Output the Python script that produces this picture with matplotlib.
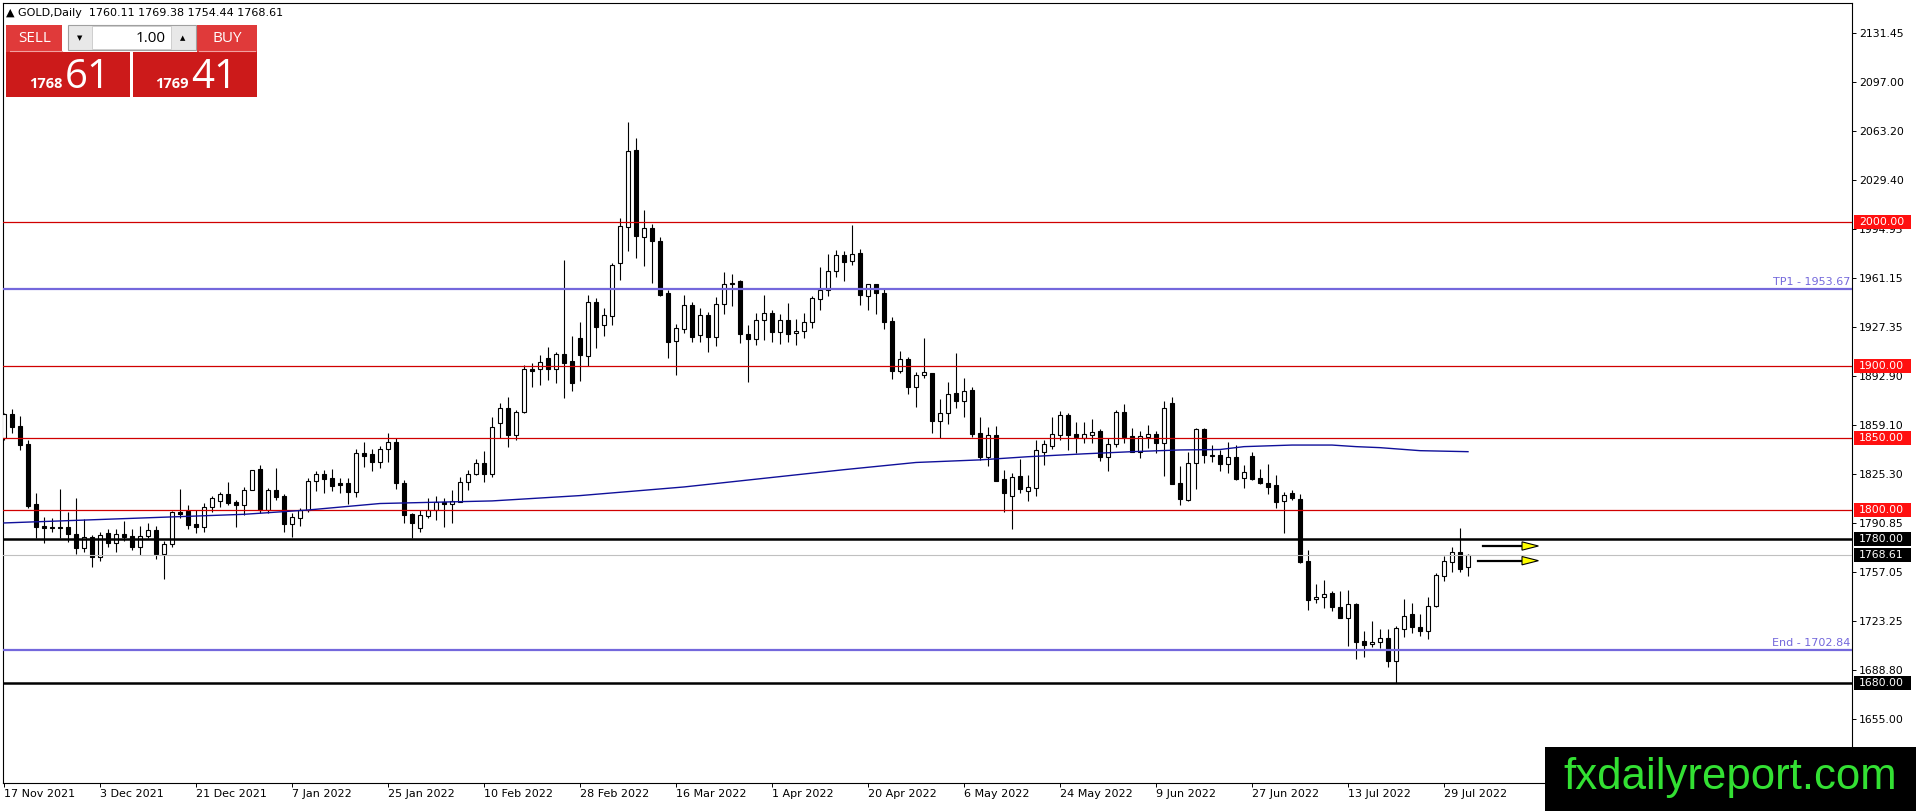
#GOLD DAILY CANDLES WITH LEVELS

import numpy as np
import matplotlib
matplotlib.use('Agg')
import matplotlib.pyplot as plt
from matplotlib.patches import Rectangle, Polygon
from matplotlib.transforms import blended_transform_factory

W, H = 1916, 811

# OHLC, one entry per daily bar (17 Nov 2021 .. 3 Aug 2022)
opens = [1850.0, 1866.7, 1858.3, 1845.8, 1804.2, 1789.0, 1788.5, 1788.5, 1788.4, 1783.3,
         1773.8, 1781.5, 1767.6, 1783.8, 1777.3, 1783.3, 1781.9, 1774.5, 1782.2, 1786.1,
         1769.4, 1776.2, 1798.6, 1799.5, 1790.3, 1788.0, 1802.3, 1806.5, 1810.9, 1805.5,
         1803.5, 1813.9, 1828.2, 1799.8, 1813.7, 1809.7, 1790.1, 1794.2, 1800.0, 1820.4,
         1824.8, 1822.0, 1818.5, 1818.5, 1812.7, 1839.4, 1838.9, 1833.6, 1842.4, 1847.2,
         1818.5, 1797.2, 1787.3, 1796.1, 1800.0, 1805.8, 1804.0, 1805.8, 1819.2, 1825.0,
         1832.9, 1825.0, 1860.6, 1870.6, 1852.1, 1868.3, 1897.7, 1897.7, 1905.3, 1897.7,
         1908.1, 1903.5, 1919.2, 1907.2, 1944.2, 1928.2, 1935.0, 1971.3, 1996.8, 2050.0,
         1989.8, 1996.0, 1986.8, 1950.5, 1917.6, 1925.9, 1942.4, 1921.3, 1935.2, 1920.4,
         1942.8, 1957.6, 1959.0, 1922.0, 1918.5, 1931.7, 1936.6, 1923.8, 1931.7, 1922.7,
         1924.1, 1930.8, 1946.3, 1952.8, 1966.0, 1976.9, 1972.7, 1978.5, 1948.8, 1956.7,
         1950.5, 1931.2, 1896.8, 1904.6, 1885.2, 1893.5, 1895.0, 1862.0, 1867.1, 1881.0,
         1875.9, 1883.3, 1853.2, 1837.0, 1851.9, 1821.5, 1810.0, 1823.6, 1813.4, 1815.5,
         1840.5, 1844.7, 1852.3, 1866.0, 1852.8, 1850.2, 1851.9, 1854.9, 1836.6, 1845.8,
         1867.8, 1851.4, 1840.5, 1850.9, 1852.5, 1846.8, 1874.1, 1818.5, 1807.0, 1832.4,
         1856.0, 1838.2, 1838.2, 1831.7, 1836.6, 1822.0, 1837.5, 1822.0, 1819.0, 1817.4,
         1806.3, 1811.6, 1807.6, 1764.6, 1738.0, 1739.4, 1742.6, 1732.4, 1724.8, 1735.0,
         1709.0, 1706.7, 1708.1, 1710.9, 1695.4, 1717.1, 1727.5, 1718.5, 1716.2, 1733.6,
         1754.4, 1764.1, 1771.1, 1760.11]
highs = [1867.5, 1870.1, 1865.3, 1848.6, 1811.6, 1795.4, 1794.7, 1814.6, 1798.6, 1808.6,
         1794.0, 1782.4, 1785.0, 1786.6, 1786.6, 1792.4, 1787.0, 1788.9, 1791.2, 1788.9,
         1778.5, 1799.5, 1814.3, 1803.5, 1800.0, 1804.6, 1809.7, 1812.5, 1819.4, 1807.0,
         1816.2, 1828.0, 1831.3, 1815.0, 1829.4, 1811.1, 1798.1, 1801.2, 1822.0, 1827.3,
         1827.8, 1828.2, 1822.0, 1822.0, 1842.1, 1847.2, 1842.4, 1844.4, 1853.2, 1849.8,
         1820.8, 1798.1, 1800.0, 1808.1, 1809.7, 1808.1, 1813.9, 1823.1, 1827.8, 1835.2,
         1841.2, 1864.4, 1874.0, 1878.7, 1869.5, 1900.7, 1901.9, 1907.6, 1913.4, 1909.9,
         1973.6, 1920.8, 1930.8, 1949.3, 1947.0, 1940.0, 1971.3, 2002.5, 2069.7, 2058.6,
         2008.3, 1998.4, 1989.8, 1952.8, 1929.2, 1949.3, 1944.7, 1940.0, 1937.7, 1948.2,
         1965.0, 1963.6, 1959.5, 1928.5, 1937.0, 1949.3, 1938.9, 1935.9, 1943.5, 1932.6,
         1936.6, 1948.6, 1968.5, 1977.5, 1980.5, 1979.9, 1997.9, 1981.0, 1957.0, 1957.0,
         1954.4, 1933.8, 1910.4, 1906.5, 1896.0, 1919.5, 1895.0, 1876.8, 1888.6, 1908.8,
         1891.4, 1885.2, 1864.4, 1857.9, 1858.3, 1827.8, 1825.9, 1835.2, 1824.3, 1848.6,
         1848.6, 1864.4, 1868.7, 1867.1, 1861.3, 1861.3, 1863.4, 1856.3, 1849.8, 1869.4,
         1873.4, 1856.7, 1854.9, 1859.0, 1854.9, 1875.7, 1878.7, 1830.5, 1840.5, 1857.2,
         1856.7, 1845.1, 1841.7, 1847.0, 1845.1, 1831.3, 1840.5, 1828.2, 1832.0, 1824.3,
         1812.7, 1813.9, 1811.1, 1772.2, 1748.6, 1751.4, 1743.8, 1743.8, 1744.4, 1735.6,
         1716.0, 1722.9, 1717.4, 1717.4, 1719.4, 1738.2, 1735.6, 1727.5, 1739.8, 1756.0,
         1768.0, 1774.5, 1787.3, 1769.38]
lows = [1848.6, 1853.7, 1841.7, 1801.2, 1780.3, 1777.3, 1785.0, 1780.3, 1778.0, 1769.2,
        1770.8, 1760.6, 1764.8, 1774.5, 1770.8, 1778.7, 1772.2, 1768.7, 1780.3, 1765.7,
        1752.3, 1774.5, 1794.2, 1786.6, 1783.8, 1785.0, 1798.8, 1801.9, 1803.2, 1788.4,
        1796.5, 1813.8, 1798.1, 1798.1, 1807.0, 1785.0, 1781.5, 1788.9, 1798.8, 1813.4,
        1811.6, 1813.4, 1812.0, 1804.2, 1809.3, 1830.1, 1827.3, 1829.0, 1833.6, 1814.4,
        1790.7, 1780.3, 1784.5, 1794.7, 1793.1, 1788.0, 1791.2, 1805.3, 1813.9, 1824.1,
        1819.7, 1823.0, 1849.8, 1843.5, 1848.6, 1867.1, 1885.6, 1886.8, 1890.3, 1888.4,
        1877.5, 1882.6, 1889.8, 1900.0, 1912.7, 1920.8, 1928.5, 1959.7, 1979.9, 1975.2,
        1969.7, 1957.9, 1948.6, 1905.8, 1893.7, 1922.7, 1916.9, 1916.9, 1910.0, 1914.1,
        1936.1, 1941.7, 1916.2, 1889.1, 1914.6, 1918.0, 1916.9, 1915.0, 1916.9, 1914.3,
        1919.7, 1926.6, 1938.9, 1948.6, 1962.0, 1959.3, 1970.1, 1942.4, 1938.9, 1935.9,
        1925.5, 1890.7, 1895.4, 1880.6, 1871.3, 1891.4, 1853.7, 1850.2, 1859.7, 1871.1,
        1864.8, 1850.9, 1834.7, 1830.8, 1820.4, 1798.4, 1786.6, 1812.0, 1806.5, 1810.0,
        1831.2, 1842.4, 1848.6, 1841.7, 1839.4, 1846.8, 1846.8, 1834.2, 1827.3, 1844.0,
        1846.3, 1840.0, 1835.9, 1843.3, 1839.4, 1823.8, 1818.1, 1803.5, 1806.3, 1814.3,
        1832.9, 1833.6, 1827.3, 1825.5, 1821.0, 1815.5, 1820.5, 1817.8, 1811.1, 1801.6,
        1783.8, 1807.0, 1763.0, 1730.6, 1735.6, 1732.2, 1730.1, 1724.8, 1705.6, 1696.3,
        1698.2, 1705.1, 1704.4, 1691.2, 1679.6, 1712.0, 1714.4, 1712.5, 1710.4, 1732.9,
        1751.0, 1757.2, 1757.2, 1754.44]
closes = [1866.7, 1857.9, 1845.1, 1802.8, 1788.0, 1787.5, 1787.5, 1787.3, 1783.3, 1773.8,
          1781.2, 1767.6, 1782.4, 1777.3, 1783.1, 1781.5, 1774.5, 1781.9, 1785.9, 1769.4,
          1776.2, 1798.6, 1797.0, 1789.8, 1788.0, 1802.3, 1808.1, 1810.9, 1805.1, 1803.7,
          1813.9, 1827.5, 1799.8, 1813.7, 1809.3, 1790.1, 1795.4, 1800.0, 1820.4, 1824.8,
          1821.5, 1816.9, 1817.6, 1812.7, 1839.4, 1837.5, 1833.6, 1842.4, 1847.2, 1818.5,
          1796.3, 1790.7, 1796.3, 1800.0, 1805.8, 1804.0, 1806.5, 1819.2, 1825.0, 1832.4,
          1825.0, 1857.4, 1870.6, 1852.1, 1868.3, 1897.7, 1896.8, 1903.0, 1897.7, 1908.1,
          1902.3, 1888.4, 1907.6, 1944.2, 1927.3, 1935.4, 1970.1, 1997.2, 2049.3, 1990.3,
          1996.0, 1987.0, 1949.3, 1916.9, 1926.2, 1942.4, 1920.4, 1935.2, 1920.4, 1943.0,
          1956.7, 1957.0, 1922.0, 1918.5, 1931.7, 1936.6, 1923.8, 1931.7, 1922.5, 1924.3,
          1930.8, 1947.0, 1952.8, 1966.0, 1976.9, 1972.5, 1978.0, 1949.0, 1956.7, 1950.5,
          1930.8, 1896.8, 1904.6, 1885.2, 1893.5, 1896.0, 1862.0, 1867.2, 1880.3, 1875.9,
          1882.6, 1852.8, 1837.0, 1851.9, 1820.4, 1811.6, 1822.7, 1814.3, 1815.7, 1841.7,
          1845.6, 1852.5, 1866.0, 1852.3, 1850.5, 1852.5, 1854.2, 1836.6, 1845.8, 1867.8,
          1850.5, 1840.0, 1851.4, 1852.5, 1846.8, 1870.6, 1818.1, 1807.4, 1832.4, 1856.0,
          1838.5, 1837.5, 1831.7, 1836.6, 1821.5, 1826.2, 1821.5, 1818.5, 1816.2, 1805.8,
          1810.4, 1808.1, 1763.7, 1737.5, 1739.4, 1741.7, 1732.9, 1725.2, 1734.7, 1708.6,
          1706.3, 1708.1, 1710.9, 1695.4, 1717.8, 1726.6, 1719.0, 1716.0, 1733.6, 1754.9,
          1764.8, 1771.1, 1759.0, 1768.61]

# moving average, read at a few bars along the blue line
ma_bars = [0, 15, 30, 38, 47, 61, 72, 85, 95, 105, 114, 122, 128, 135, 141, 147, 152,
           155, 161, 166, 169, 172, 177, 183]
ma_vals = [1791.0, 1794.0, 1797.0, 1800.0, 1804.5, 1806.3, 1810.0, 1816.0, 1822.0, 1828.0,
           1833.0, 1834.8, 1837.0, 1839.0, 1840.5, 1841.7, 1842.0, 1844.0, 1845.1, 1845.1,
           1844.0, 1843.3, 1841.2, 1840.5]

date_labels = ['17 Nov 2021', '3 Dec 2021', '21 Dec 2021', '7 Jan 2022', '25 Jan 2022',
               '10 Feb 2022', '28 Feb 2022', '16 Mar 2022', '1 Apr 2022', '20 Apr 2022',
               '6 May 2022', '24 May 2022', '9 Jun 2022', '27 Jun 2022', '13 Jul 2022',
               '29 Jul 2022']
date_bars = list(range(0, 181, 12))

price_ticks = [2131.45, 2097.00, 2063.20, 2029.40, 1994.95, 1961.15, 1927.35, 1892.90,
               1859.10, 1825.30, 1790.85, 1757.05, 1723.25, 1688.80, 1655.00]

red_levels = [2000.0, 1900.0, 1850.0, 1800.0]
black_levels = [1780.0, 1680.0]
bid = 1768.61
ask = 1769.41
tp1 = 1953.67
end_level = 1702.84
arrow_levels = [1775.0, 1764.8]
arrow_start = [184.9, 184.3]

# pixel helpers for figure-level items
def fx(px):
    return px / W

def fy(py):
    return 1 - py / H

fig = plt.figure(figsize=(W / 100, H / 100), dpi=100)
fig.patch.set_facecolor('white')
ax = fig.add_axes([fx(3), fy(783), 1849 / W, 780 / H])
ax.set_xlim(-0.125, 231.0)
ax.set_ylim(1610.4, 2152.1)

o = np.array(opens)
h = np.array(highs)
l = np.array(lows)
c = np.array(closes)
x = np.arange(len(o))
up = c >= o
body_lo = np.minimum(o, c)
body_h = np.maximum(np.abs(c - o), 0.6)

ax.vlines(x, l, h, color='black', linewidth=0.8, zorder=3)
ax.bar(x[up], body_h[up], bottom=body_lo[up], width=0.56, facecolor='white',
       edgecolor='black', linewidth=0.8, zorder=4)
ax.bar(x[~up], body_h[~up], bottom=body_lo[~up], width=0.56, facecolor='black',
       edgecolor='black', linewidth=0.8, zorder=4)

# levels
for lv in red_levels:
    ax.axhline(lv, color='#d00000', linewidth=0.9, zorder=5)
for lv in black_levels:
    ax.axhline(lv, color='black', linewidth=1.8, zorder=5)
ax.axhline(bid, color='#c0c0c0', linewidth=0.8, zorder=5)
for lv, name in [(tp1, 'TP1'), (end_level, 'End')]:
    ax.axhline(lv, color='#7468dc', linewidth=1.6, zorder=5)
    ax.text(230.8, lv + 1.2, f'{name} - {lv:.2f}', color='#7468dc', fontsize=8,
            ha='right', va='bottom', zorder=6)

ax.plot(ma_bars, ma_vals, color='#10109a', linewidth=1.0, zorder=6)

# yellow arrows
for lv, xs in zip(arrow_levels, arrow_start):
    ax.plot([xs, 189.9], [lv, lv], color='black', linewidth=1.6, zorder=7)
    tri = Polygon([[189.75, lv + 2.9], [191.8, lv], [189.75, lv - 2.9]], closed=True,
                  facecolor='#ffff00', edgecolor='black', linewidth=0.8, zorder=8)
    ax.add_patch(tri)

# axes styling
for sp in ax.spines.values():
    sp.set_color('black')
    sp.set_linewidth(0.8)
ax.yaxis.tick_right()
ax.set_yticks(price_ticks)
ax.set_yticklabels([f'{t:.2f}' for t in price_ticks])
ax.tick_params(axis='y', length=3, width=0.7, labelsize=7.8, pad=2, colors='black')
ax.set_xticks(date_bars)
ax.set_xticklabels(date_labels)
ax.tick_params(axis='x', length=3, width=0.7, labelsize=8, pad=1.5)
for lbl in ax.get_xticklabels():
    lbl.set_ha('left')

# price labels on the right axis
trans = blended_transform_factory(fig.transFigure, ax.transData)
box_h = 9.4
for lv, col in ([(v, '#ff1010') for v in red_levels] + [(v, 'black') for v in black_levels]
                + [(bid, 'black')]):
    fig.add_artist(Rectangle((fx(1854), lv - box_h / 2), 57 / W, box_h, transform=trans,
                             facecolor=col, edgecolor='none', zorder=2))
    fig.text(fx(1859), lv, f'{lv:.2f}', transform=trans, color='white', fontsize=7.8,
             va='center', ha='left', zorder=3)

# header line
fig.text(fx(6), fy(13), f'\u25b2 GOLD,Daily  {opens[-1]:.2f} {highs[-1]:.2f} '
         f'{lows[-1]:.2f} {closes[-1]:.2f}', fontsize=8, va='center', ha='left')

# one-click trading panel
panel = [(6, 25, 62, 52, '#e03a3a'), (197, 25, 257, 52, '#e03a3a'),
         (6, 52, 130, 97, '#cc1a1a'), (133, 52, 257, 97, '#cc1a1a')]
for x0, y0, x1, y1, col in panel:
    fig.add_artist(Rectangle((fx(x0), fy(y1)), (x1 - x0) / W, (y1 - y0) / H,
                             transform=fig.transFigure, facecolor=col, edgecolor='none'))
for x0, x1 in [(10, 62), (199, 255)]:
    fig.add_artist(plt.Line2D([fx(x0), fx(x1)], [fy(51), fy(51)], color='#f2a0a0',
                              linewidth=0.8, transform=fig.transFigure))
fig.add_artist(Rectangle((fx(68), fy(50)), 128 / W, 25 / H, transform=fig.transFigure,
                         facecolor='#e8e8e8', edgecolor='#a0a0a0', linewidth=0.8))
fig.add_artist(Rectangle((fx(92), fy(49)), 79 / W, 23 / H, transform=fig.transFigure,
                         facecolor='white', edgecolor='#c8c8c8', linewidth=0.6))
fig.text(fx(80), fy(38), '\u25bc', fontsize=5, ha='center', va='center')
fig.text(fx(183), fy(38), '\u25b2', fontsize=5, ha='center', va='center')
fig.text(fx(166), fy(38), '1.00', fontsize=11, ha='right', va='center', family='Open Sans')
fig.text(fx(35), fy(38), 'SELL', fontsize=11, color='white', ha='center', va='center',
         family='Open Sans')
fig.text(fx(227), fy(38), 'BUY', fontsize=11, color='white', ha='center', va='center',
         family='Open Sans')
for big, xr, price in [(str(int(bid)), 63, bid), (str(int(ask)), 189, ask)]:
    cents = f'{price:.2f}'[-2:]
    fig.text(fx(xr), fy(88), big, fontsize=10.5, fontweight='bold', color='white',
             ha='right', va='baseline', family='Open Sans')
    fig.text(fx(xr + 2), fy(88), cents, fontsize=29, color='white', ha='left',
             va='baseline', family='Open Sans')

# watermark
fig.add_artist(Rectangle((fx(1545), 0), (W - 1545) / W, (H - 747) / H,
                         transform=fig.transFigure, facecolor='black', edgecolor='none',
                         zorder=5))
fig.text(fx(1730), fy(777), 'fxdailyreport.com', fontsize=31.5, color='#33e033',
         ha='center', va='center', family='Liberation Sans', zorder=6)

fig.savefig('out.png', dpi=100, facecolor='white')
